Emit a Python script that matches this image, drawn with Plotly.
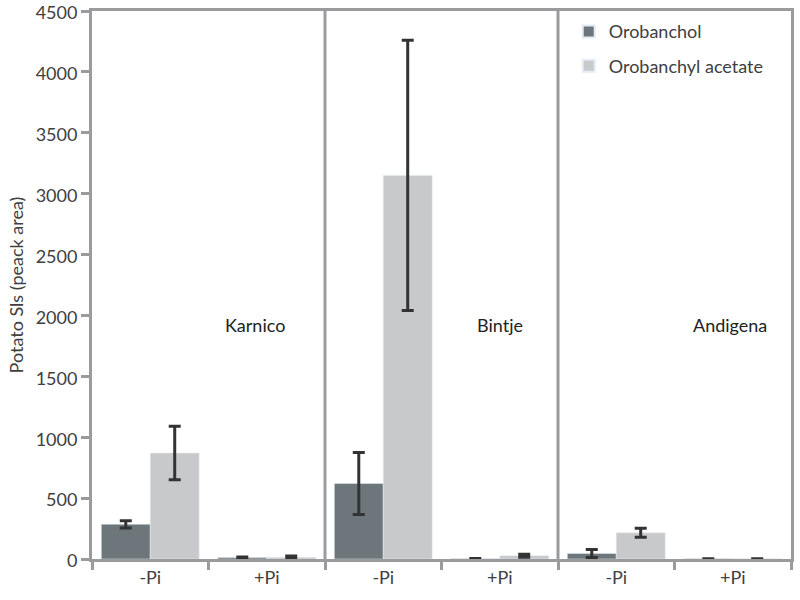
import plotly.graph_objects as go

positions = [0, 1, 2, 3, 4, 5]
tick_labels = ["-Pi", "+Pi", "-Pi", "+Pi", "-Pi", "+Pi"]
cultivars = ["Karnico", "Bintje", "Andigena"]

orobanchol = [285, 12, 620, 3, 45, 2]
orobanchol_err = [30, 4, 255, 2, 33, 1]
acetate = [870, 14, 3150, 27, 215, 2]
acetate_err = [220, 10, 1110, 12, 37, 1]

dark = "#6d767a"
light = "#c8c9ca"
axis_col = "#9a9b9d"
err_col = "#333333"
font_fam = "Lato, 'Open Sans', sans-serif"
txt_col = "#404040"

fig = go.Figure()
fig.add_trace(go.Bar(
    x=positions, y=orobanchol, name="Orobanchol", marker_color=dark,
    legendgroup="a",
    error_y=dict(type="data", array=orobanchol_err, color=err_col, thickness=3, width=6),
))
fig.add_trace(go.Bar(
    x=positions, y=acetate, name="Orobanchyl acetate", marker_color=light,
    legendgroup="b",
    error_y=dict(type="data", array=acetate_err, color=err_col, thickness=3, width=6),
))

# separators between cultivars
for b in [1.5, 3.5]:
    fig.add_shape(type="line", x0=b, x1=b, y0=0, y1=1, xref="x", yref="paper",
                  line=dict(color=axis_col, width=3))

label_x = [0.9, 3.0, 4.98]
for name, lx in zip(cultivars, label_x):
    fig.add_annotation(x=lx, y=1920, text=name, showarrow=False,
                       font=dict(size=18, color="#222222", family=font_fam))

fig.update_layout(
    width=800, height=600,
    margin=dict(l=92, r=9, t=11, b=41),
    plot_bgcolor="white", paper_bgcolor="white",
    barmode="group", bargap=0.16, bargroupgap=0,
    font=dict(family=font_fam, size=18, color=txt_col),
    legend=dict(x=0.682, y=0.996, xanchor="left", yanchor="top",
                bgcolor="rgba(0,0,0,0)", font=dict(size=18, color=txt_col),
                tracegroupgap=8, itemsizing="constant"),
    showlegend=True,
)
fig.update_xaxes(
    range=[-0.5, 5.5], tickmode="array", tickvals=positions, ticktext=tick_labels,
    ticks="", showline=True, linecolor=axis_col, linewidth=3, mirror=True,
    showgrid=False, zeroline=False, automargin=False,
    minor=dict(tickmode="linear", tick0=-0.5, dtick=1, ticks="outside",
               ticklen=8, tickwidth=3, tickcolor=axis_col, showgrid=False),
    tickfont=dict(size=18, color=txt_col),
)
fig.update_yaxes(
    range=[0, 4500], dtick=500, ticks="outside", ticklen=8, tickwidth=3,
    tickcolor=axis_col, showline=True, linecolor=axis_col, linewidth=3, mirror=True,
    showgrid=False, zeroline=False, automargin=False, ticklabeloverflow="allow",
    ticklabelshift=2,
    title=dict(text="Potato Sls (peack area)", font=dict(size=18, color=txt_col), standoff=8),
    tickfont=dict(size=18, color=txt_col),
)

fig.write_html("out.html", config={"displayModeBar": False},
               post_script="document.body.style.margin='0px';")
